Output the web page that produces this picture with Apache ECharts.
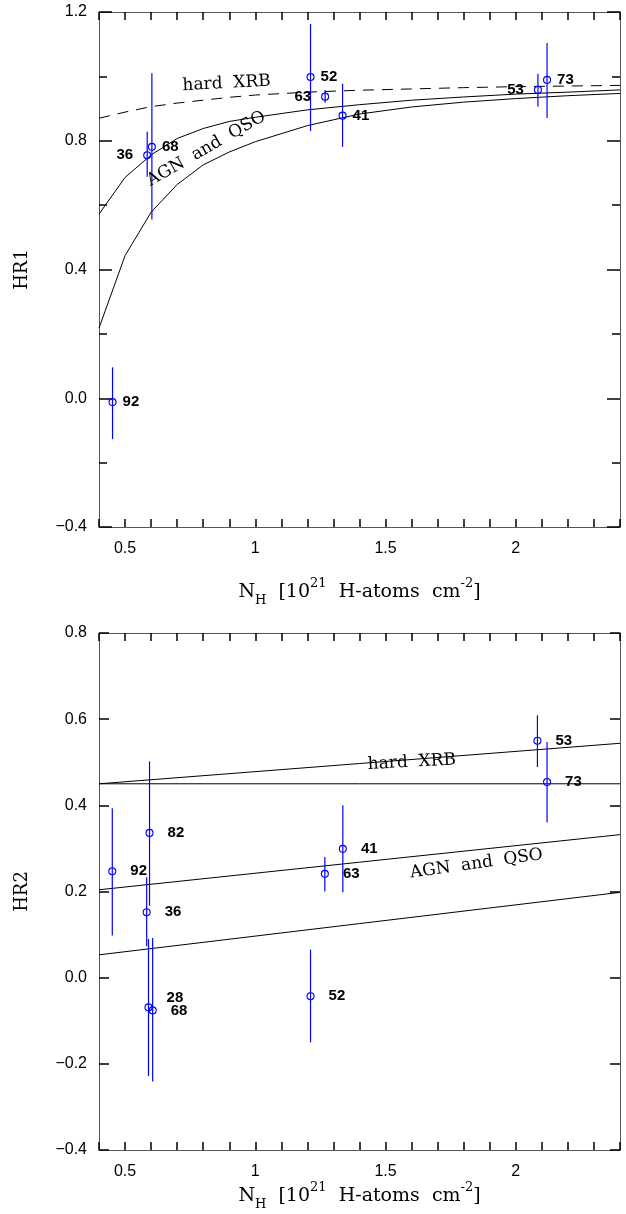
<!DOCTYPE html>
<html>
<head>
<meta charset="utf-8">
<script src="https://cdn.jsdelivr.net/npm/echarts@6/dist/echarts.min.js"></script>
<style>
  html, body { margin: 0; padding: 0; background: #fff; }
  #chart { width: 626px; height: 1214px; }
</style>
</head>
<body>
<div id="chart"></div>
<script>
// Hardness ratios HR1 and HR2 of the X-ray sources versus Galactic column density,
// with the expected tracks of a hard XRB spectrum and of AGN / QSO spectra.

// Tick labels
const nhTickLabels = [0.5, 1, 1.5, 2];
const hr1TickLabels = [-0.4, 0, 0.4, 0.8, 1.2];
const hr2TickLabels = [-0.4, -0.2, 0, 0.2, 0.4, 0.6, 0.8];

// HR1 measurements (source number, N_H, HR1, lower and upper error limit)
const hr1Src = ['92', '36', '68', '52', '63', '41', '53', '73'];
const hr1Nh  = [0.452, 0.585, 0.603, 1.212, 1.268, 1.335, 2.085, 2.120];
const hr1Val = [-0.012, 0.755, 0.781, 0.998, 0.937, 0.878, 0.958, 0.989];
const hr1Lo  = [-0.127, 0.688, 0.555, 0.830, 0.918, 0.781, 0.906, 0.871];
const hr1Hi  = [0.096, 0.828, 1.010, 1.163, 0.958, 0.977, 1.008, 1.104];

// HR1 model tracks
const hr1TrackNh  = [0.4, 0.5, 0.6, 0.7, 0.8, 0.9, 1.0, 1.2, 1.4, 1.6, 1.8, 2.0, 2.2, 2.4];
const hr1Xrb      = [0.870, 0.889, 0.906, 0.917, 0.926, 0.935, 0.942, 0.951, 0.957, 0.961, 0.965, 0.968, 0.970, 0.972];
const hr1AgnHigh  = [0.572, 0.686, 0.756, 0.807, 0.838, 0.860, 0.873, 0.896, 0.912, 0.926, 0.936, 0.945, 0.951, 0.958];
const hr1AgnLow   = [0.218, 0.443, 0.578, 0.664, 0.725, 0.765, 0.797, 0.847, 0.883, 0.905, 0.920, 0.931, 0.940, 0.947];

// HR2 measurements
const hr2Src = ['92', '82', '36', '28', '68', '52', '63', '41', '53', '73'];
const hr2Nh  = [0.451, 0.594, 0.583, 0.590, 0.606, 1.212, 1.267, 1.336, 2.083, 2.120];
const hr2Val = [0.247, 0.336, 0.152, -0.069, -0.076, -0.043, 0.241, 0.299, 0.550, 0.454];
const hr2Lo  = [0.098, 0.167, 0.073, -0.228, -0.241, -0.150, 0.200, 0.198, 0.489, 0.360];
const hr2Hi  = [0.393, 0.502, 0.233, 0.090, 0.092, 0.065, 0.280, 0.400, 0.609, 0.547];

// HR2 model tracks
const hr2TrackNh = [0.4, 2.4];
const hr2Flat    = [0.450, 0.450];
const hr2Xrb     = [0.450, 0.544];
const hr2AgnHigh = [0.204, 0.332];
const hr2AgnLow  = [0.053, 0.198];

// Track captions: panel, anchor [N_H, HR], text, tilt in degrees
const captionPanel = [0, 0, 1, 1];
const captionAt    = [[0.890, 0.978], [0.812, 0.775], [1.601, 0.500], [1.849, 0.264]];
const captionText  = ['hard  XRB', 'AGN  and  QSO', 'hard  XRB', 'AGN  and  QSO'];
const captionTilt  = [3, 30, 3, 8];

// ---------------------------------------------------------------------------
const SANS = '"Liberation Sans", "DejaVu Sans", sans-serif';
const SERIF = '"DejaVu Serif", "Liberation Serif", serif';
const BLUE = '#0000ff';

const chart = echarts.init(document.getElementById('chart'));

const minus = v => String(v).replace('-', '\u2212');

const nhName = '{n|N}{s|H}{n|  [10}{p|21}{n|  H-atoms  cm}{p|-2}{n|]}';
const nhRich = () => ({
  n: { fontFamily: SERIF, fontSize: 19, color: '#000', lineHeight: 30, verticalAlign: 'middle' },
  s: { fontFamily: SERIF, fontSize: 13, color: '#000', lineHeight: 14, verticalAlign: 'bottom' },
  p: { fontFamily: SERIF, fontSize: 13, color: '#000', lineHeight: 14, verticalAlign: 'top' }
});

const axisLine = () => ({ show: true, onZero: false });
const ticks = (length) => ({ show: true, inside: true, length, lineStyle: { color: '#000', width: 1.5 } });

// per panel: one N_H axis along the bottom (labelled) and one along the top
function nhAxes(gridIndex, nameGap) {
  const base = () => ({
    type: 'value', gridIndex, min: 0.4, max: 2.4, interval: 0.1,
    splitLine: { show: false }, axisLine: axisLine(), axisTick: ticks(8)
  });
  return [
    Object.assign(base(), {
      position: 'bottom',
      axisLabel: {
        customValues: nhTickLabels, margin: 14, color: '#000',
        fontFamily: SANS, fontSize: 16, formatter: v => String(v)
      },
      name: nhName, nameLocation: 'middle', nameGap,
      nameTextStyle: { rich: nhRich() }
    }),
    Object.assign(base(), { position: 'top', axisLabel: { show: false } })
  ];
}

function hrAxes(gridIndex, min, max, interval, labels, tickLen, minorSplit, name) {
  const base = () => {
    const a = {
      type: 'value', gridIndex, min, max, interval, splitLine: { show: false },
      axisTick: ticks(tickLen), axisLine: axisLine()
    };
    if (minorSplit) {
      a.minorTick = { show: true, splitNumber: minorSplit, length: 8, lineStyle: { color: '#000', width: 1.5 } };
    }
    return a;
  };
  return [
    Object.assign(base(), {
      position: 'left',
      axisLabel: {
        customValues: labels, margin: 12, color: '#000', fontFamily: SANS, fontSize: 16,
        formatter: v => minus(Number(v).toFixed(1))
      },
      name, nameLocation: 'middle', nameGap: 68, nameRotate: 90,
      nameTextStyle: { fontFamily: SERIF, fontSize: 18, color: '#000' }
    }),
    Object.assign(base(), { position: 'right', axisLabel: { show: false } })
  ];
}

function track(xs, ys, xAxisIndex, yAxisIndex, dashed) {
  return {
    type: 'line', xAxisIndex, yAxisIndex, silent: true,
    data: xs.map((x, i) => [x, ys[i]]),
    showSymbol: false, symbol: 'none', smooth: false,
    lineStyle: { color: '#000', width: 1, type: dashed ? [11, 8] : 'solid' },
    z: 2
  };
}

function errorBars(xs, lo, hi, xAxisIndex, yAxisIndex) {
  return {
    type: 'custom', xAxisIndex, yAxisIndex, silent: true,
    data: xs.map((x, i) => [x, lo[i], hi[i]]),
    encode: { x: 0, y: [1, 2] },
    renderItem: (params, api) => {
      const a = api.coord([api.value(0), api.value(1)]);
      const b = api.coord([api.value(0), api.value(2)]);
      return {
        type: 'line',
        shape: { x1: a[0], y1: a[1], x2: b[0], y2: b[1] },
        style: { stroke: BLUE, lineWidth: 1.2 }
      };
    },
    z: 3
  };
}

function points(src, xs, ys, xAxisIndex, yAxisIndex, dist, leftSet, shifts) {
  return {
    type: 'scatter', xAxisIndex, yAxisIndex, silent: true,
    symbol: 'circle', symbolSize: 7,
    itemStyle: { color: 'rgba(255,255,255,0)', borderColor: BLUE, borderWidth: 1.1, opacity: 1 },
    label: {
      show: true, position: 'right', distance: dist, color: '#000', opacity: 1,
      fontFamily: SANS, fontSize: 15, fontWeight: 'bold',
      formatter: p => p.name
    },
    data: src.map((s, i) => {
      const item = { name: s, value: [xs[i], ys[i]] };
      const lab = {};
      if (leftSet.includes(s)) { lab.position = 'left'; lab.distance = dist + 4; }
      if (shifts[s]) lab.offset = shifts[s];
      item.label = lab;
      return item;
    }),
    z: 4
  };
}

// captions drawn as label-only points on each panel's own axes
function captions(panel, xAxisIndex, yAxisIndex) {
  const idx = captionPanel.map((p, i) => (p === panel ? i : -1)).filter(i => i >= 0);
  return {
    type: 'scatter', xAxisIndex, yAxisIndex, silent: true,
    symbol: 'circle', symbolSize: 1, itemStyle: { color: 'rgba(0,0,0,0)', opacity: 1 },
    label: {
      show: true, position: 'inside', color: '#000', opacity: 1,
      fontFamily: SERIF, fontSize: 17, formatter: p => p.name
    },
    data: idx.map(i => ({
      name: captionText[i], value: captionAt[i],
      label: { rotate: captionTilt[i] }
    })),
    z: 5
  };
}

chart.setOption({
  animation: false,
  grid: [
    { left: 99, top: 12, width: 521, height: 515 },
    { left: 99, top: 633, width: 521, height: 517 }
  ],
  xAxis: [].concat(nhAxes(0, 50), nhAxes(1, 30)),
  yAxis: [].concat(
    hrAxes(0, -0.4, 1.2, 0.4, hr1TickLabels, 13, 2, 'HR1'),
    hrAxes(1, -0.4, 0.8, 0.2, hr2TickLabels, 10, 0, 'HR2')
  ),
  series: [
    track(hr1TrackNh, hr1Xrb, 0, 0, true),
    track(hr1TrackNh, hr1AgnHigh, 0, 0, false),
    track(hr1TrackNh, hr1AgnLow, 0, 0, false),
    errorBars(hr1Nh, hr1Lo, hr1Hi, 0, 0),
    points(hr1Src, hr1Nh, hr1Val, 0, 0, 6, ['36', '63', '53'], {}),
    captions(0, 0, 0),

    track(hr2TrackNh, hr2Flat, 2, 2, false),
    track(hr2TrackNh, hr2Xrb, 2, 2, false),
    track(hr2TrackNh, hr2AgnHigh, 2, 2, false),
    track(hr2TrackNh, hr2AgnLow, 2, 2, false),
    errorBars(hr2Nh, hr2Lo, hr2Hi, 2, 2),
    points(hr2Src, hr2Nh, hr2Val, 2, 2, 14, [], { '28': [0, -10] }),
    captions(1, 2, 2)
  ]
});
</script>
</body>
</html>
